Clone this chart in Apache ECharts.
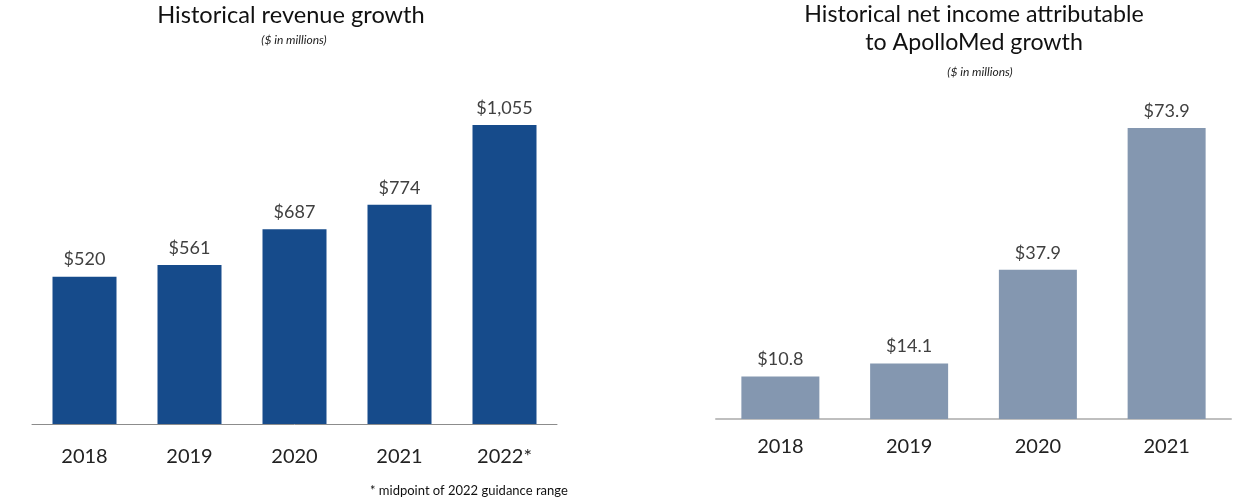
<!DOCTYPE html>
<html><head><meta charset="utf-8">
<script src="https://cdn.jsdelivr.net/npm/echarts@6/dist/echarts.min.js"></script>
<style>html,body{margin:0;padding:0;background:#fff}#c{width:1255px;height:502px}</style>
</head><body><div id="c"></div>
<script>
const revCategories = ['2018','2019','2020','2021','2022*'];
const revValues = [520, 561, 687, 774, 1055];
const niCategories = ['2018','2019','2020','2021'];
const niValues = [10.8, 14.1, 37.9, 73.9];

const FONT = 'Lato';
const chart = echarts.init(document.getElementById('c'));
chart.setOption({
  animation: false,
  textStyle: { fontFamily: FONT },
  title: [
    { text: 'Historical revenue growth', left: 286, top: -2, textAlign: 'center',
      textStyle: { fontFamily: FONT, fontSize: 23.6, fontWeight: 'normal', color: '#111' } },
    { text: '($ in millions)', left: 289, top: 29, textAlign: 'center',
      textStyle: { fontFamily: FONT, fontSize: 12, fontStyle: 'italic', fontWeight: 'normal', color: '#222' } },
    { text: 'Historical net income attributable\nto ApolloMed growth', left: 969, top: -4, textAlign: 'center',
      textStyle: { fontFamily: FONT, fontSize: 23.2, fontWeight: 'normal', color: '#111', lineHeight: 28 } },
    { text: '($ in millions)', left: 975, top: 61, textAlign: 'center',
      textStyle: { fontFamily: FONT, fontSize: 12, fontStyle: 'italic', fontWeight: 'normal', color: '#222' } },
    { text: '* midpoint of 2022 guidance range', left: 365, top: 479,
      textStyle: { fontFamily: FONT, fontSize: 13, fontWeight: 'normal', color: '#111' } }
  ],
  grid: [
    { left: 32, top: 84, width: 525, height: 340 },
    { left: 716, top: 104, width: 515, height: 315 }
  ],
  xAxis: [
    { type: 'category', gridIndex: 0, data: revCategories,
      axisLine: { lineStyle: { color: '#8c8c8c', width: 1 } }, axisTick: { show: false },
      axisLabel: { fontFamily: FONT, fontSize: 20, color: '#222', margin: 23 } },
    { type: 'category', gridIndex: 1, data: niCategories,
      axisLine: { lineStyle: { color: '#bfbfbf', width: 2 } }, axisTick: { show: false },
      axisLabel: { fontFamily: FONT, fontSize: 20, color: '#222', margin: 18 } }
  ],
  yAxis: [
    { type: 'value', gridIndex: 0, min: 0, max: 1200, show: false, splitLine: { show: false } },
    { type: 'value', gridIndex: 1, min: 0, max: 80, show: false, splitLine: { show: false } }
  ],
  series: [
    { type: 'bar', xAxisIndex: 0, yAxisIndex: 0, data: revValues, barWidth: 64,
      itemStyle: { color: '#164B8B' },
      label: { show: true, position: 'top', distance: 8, fontFamily: FONT, fontSize: 18, color: '#404040',
        formatter: p => '$' + p.value.toLocaleString('en-US') } },
    { type: 'bar', xAxisIndex: 1, yAxisIndex: 1, data: niValues, barWidth: 78,
      itemStyle: { color: '#8497B0' },
      label: { show: true, position: 'top', distance: 8, fontFamily: FONT, fontSize: 18, color: '#404040',
        formatter: p => '$' + p.value.toFixed(1) } }
  ]
});
</script></body></html>
